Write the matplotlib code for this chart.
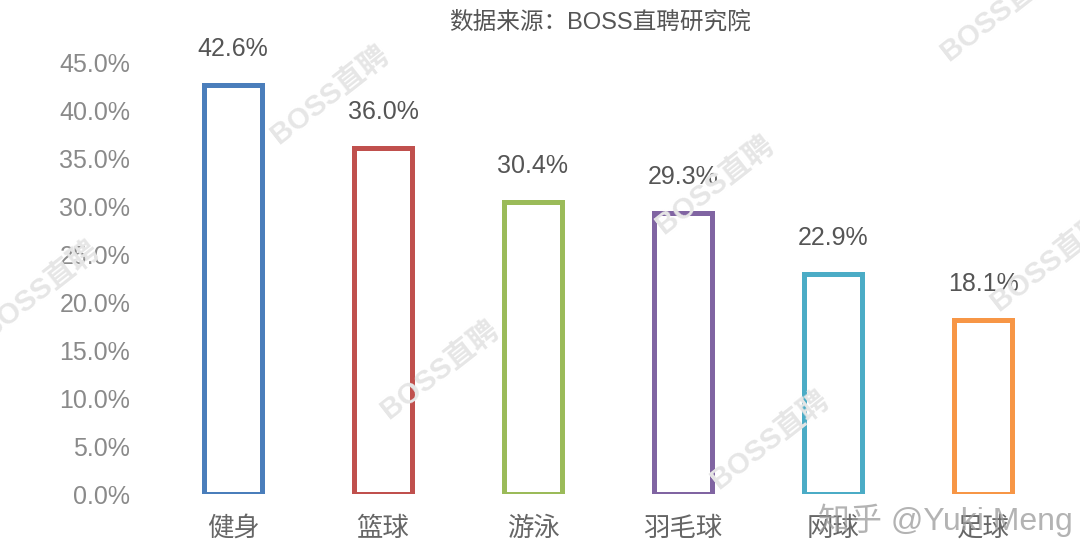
import matplotlib.pyplot as plt
import numpy as np

plt.rcParams['font.family'] = ['Liberation Sans', 'Noto Sans CJK SC', 'DejaVu Sans']

# datos
categorias = ['健身', '篮球', '游泳', '羽毛球', '网球', '足球']
valores = [42.6, 36.0, 30.4, 29.3, 22.9, 18.1]
colores = ['#4a7ebb', '#c0504d', '#9bbb59', '#8064a2', '#4bacc6', '#f79646']
yticks = np.arange(0, 46, 5)

fig = plt.figure(figsize=(10.8, 5.4), dpi=100)
ax = fig.add_axes([158/1080, 1 - 494/540, 900/1080, 432/540])

x = np.arange(len(categorias))
ax.bar(x, valores, width=0.39, facecolor='white', edgecolor=colores, linewidth=3.6)

for xi, v in zip(x, valores):
    ax.text(xi, v + 2.5, f'{v:.1f}%', ha='center', va='bottom', fontsize=18,
            color='#555555')

ax.set_xlim(-0.5, len(categorias) - 0.5)
ax.set_ylim(0, 45)
ax.set_yticks(yticks)
ax.set_yticklabels([f'{t:.1f}%' for t in yticks], fontsize=18, color='#8a8a8a')
ax.set_xticks(x)
ax.set_xticklabels(categorias, fontsize=19, color='#666666')
ax.tick_params(axis='both', length=0)
ax.tick_params(axis='y', pad=20)
ax.tick_params(axis='x', pad=16)
for s in ax.spines.values():
    s.set_visible(False)

fig.text(600/1080, 1 - 22/540, '数据来源：BOSS直聘研究院', ha='center', va='center',
         fontsize=17, color='#555555')

# marcas de agua
marcas = [(330, 95), (715, 185), (440, 370), (770, 440), (40, 290), (1000, 12), (1050, 262)]
for mx, my in marcas:
    fig.text(mx/1080, 1 - my/540, 'BOSS直聘', ha='center', va='center', rotation=38,
             fontsize=21, fontweight='bold', color='#e6e6e6', zorder=0)

fig.text(945/1080, 1 - 520/540, '知乎 @Yuki Meng', ha='center', va='center',
         fontsize=23, color='#9a9a9a', alpha=0.75)

fig.savefig('out.png', dpi=100)
